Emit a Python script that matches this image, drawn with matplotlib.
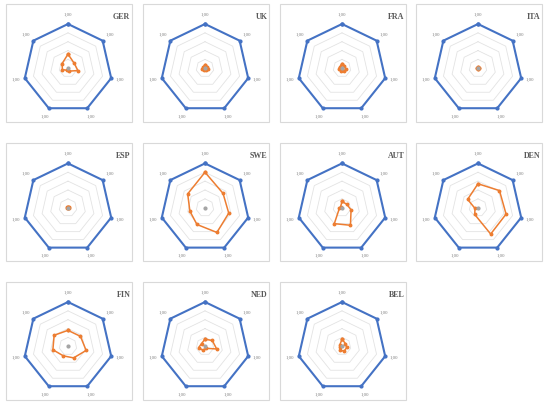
import numpy as np
import matplotlib
matplotlib.use("Agg")
import matplotlib.pyplot as plt
from matplotlib.patches import Rectangle

countries = ["GER", "UK", "FRA", "ITA", "ESP", "SWE", "AUT", "DEN", "FIN", "NED", "BEL"]
n_axes = 7
outer = [1.0] * n_axes
ger = [0.32, 0.18, 0.23, 0.07, 0.05, 0.13, 0.17]
uk = [0.07, 0.06, 0.07, 0.05, 0.05, 0.06, 0.05]
fra = [0.10, 0.07, 0.09, 0.08, 0.06, 0.08, 0.06]
ita = [0.02, 0.02, 0.02, 0.02, 0.02, 0.02, 0.02]
esp = [0.02, 0.02, 0.02, 0.02, 0.02, 0.02, 0.02]
swe = [0.80, 0.52, 0.55, 0.62, 0.42, 0.35, 0.50]
aut = [0.14, 0.13, 0.21, 0.44, 0.40, 0.06, 0.04]
den = [0.54, 0.62, 0.65, 0.66, 0.17, 0.07, 0.30]
fin = [0.36, 0.36, 0.42, 0.29, 0.24, 0.35, 0.40]
ned = [0.16, 0.21, 0.27, 0.05, 0.10, 0.15, 0.10]
bel = [0.16, 0.10, 0.11, 0.12, 0.10, 0.05, 0.06]
series = [ger, uk, fra, ita, esp, swe, aut, den, fin, ned, bel]
label_text = "1,00"
grid_levels = [0.2, 0.4, 0.6, 0.8]

W, H = 550, 407
fig = plt.figure(figsize=(W / 100, H / 100), dpi=100)
fig.patch.set_facecolor("white")

BLUE = "#4472C4"
ORANGE = "#ED7D31"
GREY = "#A5A5A5"

centers_x = [68, 205, 342, 478]
centers_y = [68.3, 207.7, 346.3]
R = 44.3

theta = np.arange(n_axes) * 2 * np.pi / n_axes
theta_c = np.append(theta, theta[0])

for i, (name, vals) in enumerate(zip(countries, series)):
    row, col = divmod(i, 4)
    cx, cy = centers_x[col], centers_y[row]
    # panel box
    bx0, bx1 = cx - 61.7, cx + 64.3
    by0, by1 = cy - 64.3, cy + 53.7
    fig.patches.append(Rectangle((bx0 / W, 1 - by1 / H), (bx1 - bx0) / W, (by1 - by0) / H,
                                 transform=fig.transFigure, fill=False,
                                 edgecolor="#D9D9D9", linewidth=0.8))
    fig.text((bx1 - 2) / W, 1 - (by0 + 12.7) / H, name, ha="right", va="center",
             fontsize=5.8, fontweight="bold", family="Liberation Serif", color="#595959")

    ax = fig.add_axes([(cx - R) / W, 1 - (cy + R) / H, 2 * R / W, 2 * R / H], projection="polar")
    ax.set_theta_offset(np.pi / 2)
    ax.set_theta_direction(-1)
    ax.set_ylim(0, 1)
    ax.grid(False)
    ax.spines["polar"].set_visible(False)
    ax.set_xticks([])
    ax.set_yticks([])
    ax.patch.set_alpha(0)

    for lv in grid_levels:
        ax.plot(theta_c, [lv] * (n_axes + 1), color="#E3E3E3", lw=0.6, zorder=1, clip_on=False)

    ov = list(outer) + [outer[0]]
    ax.plot(theta_c, ov, color=BLUE, lw=1.5, marker="o", ms=2.0, zorder=3, clip_on=False)
    dv = list(vals) + [vals[0]]
    ax.plot(theta_c, dv, color=ORANGE, lw=1.1, marker="o", ms=1.8, zorder=4, clip_on=False)
    ax.plot([0], [0], color=GREY, marker="o", ms=2.0, lw=0, zorder=5)

    for t in theta:
        ax.text(t, 1.21, label_text, ha="center", va="center", fontsize=3.5,
                family="Liberation Serif", color="#7F7F7F", clip_on=False)

fig.savefig("out.png", dpi=100, facecolor="white")
